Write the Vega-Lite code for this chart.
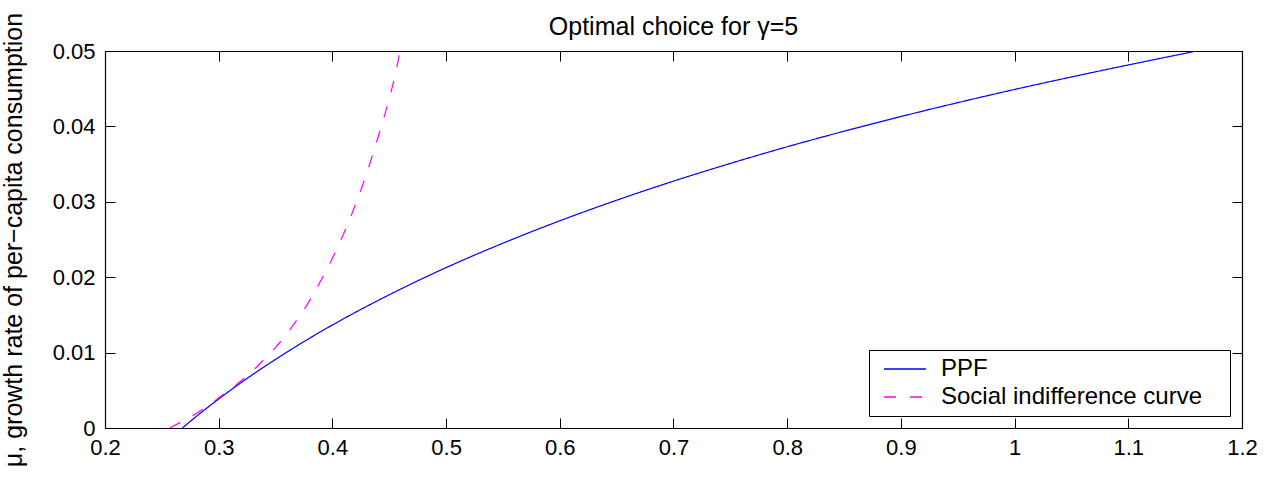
{
  "$schema": "https://vega.github.io/schema/vega-lite/v6.json",
  "width": 1137,
  "height": 377,
  "autosize": "none",
  "padding": {"left": 105, "top": 51, "right": 33, "bottom": 49},
  "background": "white",
  "title": {"text": "Optimal choice for γ=5", "font": "Liberation Sans", "fontSize": 25, "fontWeight": "normal", "color": "black", "offset": -28, "anchor": "middle"},
  "config": {
    "view": {"stroke": null},
    "axis": {"grid": false, "domainColor": "black", "tickColor": "black", "labelColor": "black", "titleColor": "black", "labelFont": "Liberation Sans", "titleFont": "Liberation Sans", "labelFontSize": 22, "titleFontSize": 25, "titleFontWeight": "normal", "tickSize": -10, "domainWidth": 1.2, "tickWidth": 1}
  },
  "data": {"values": [
    {"x": 0.268, "y": 0, "series": "PPF"},
    {"x": 0.275, "y": 0.00088, "series": "PPF"},
    {"x": 0.285, "y": 0.0021, "series": "PPF"},
    {"x": 0.3, "y": 0.00385, "series": "PPF"},
    {"x": 0.325, "y": 0.00658, "series": "PPF"},
    {"x": 0.35, "y": 0.0091, "series": "PPF"},
    {"x": 0.375, "y": 0.01146, "series": "PPF"},
    {"x": 0.4, "y": 0.01366, "series": "PPF"},
    {"x": 0.45, "y": 0.01767, "series": "PPF"},
    {"x": 0.5, "y": 0.02127, "series": "PPF"},
    {"x": 0.55, "y": 0.02451, "series": "PPF"},
    {"x": 0.6, "y": 0.02748, "series": "PPF"},
    {"x": 0.65, "y": 0.03021, "series": "PPF"},
    {"x": 0.7, "y": 0.03274, "series": "PPF"},
    {"x": 0.75, "y": 0.03509, "series": "PPF"},
    {"x": 0.8, "y": 0.0373, "series": "PPF"},
    {"x": 0.85, "y": 0.03936, "series": "PPF"},
    {"x": 0.9, "y": 0.04131, "series": "PPF"},
    {"x": 0.95, "y": 0.04315, "series": "PPF"},
    {"x": 1.0, "y": 0.0449, "series": "PPF"},
    {"x": 1.05, "y": 0.04656, "series": "PPF"},
    {"x": 1.1, "y": 0.04815, "series": "PPF"},
    {"x": 1.16, "y": 0.05, "series": "PPF"},
    {"x": 0.257, "y": 0, "series": "Social indifference curve"},
    {"x": 0.27, "y": 0.00105, "series": "Social indifference curve"},
    {"x": 0.28, "y": 0.0019, "series": "Social indifference curve"},
    {"x": 0.29, "y": 0.0029, "series": "Social indifference curve"},
    {"x": 0.3, "y": 0.004, "series": "Social indifference curve"},
    {"x": 0.31, "y": 0.0051, "series": "Social indifference curve"},
    {"x": 0.32, "y": 0.0063, "series": "Social indifference curve"},
    {"x": 0.33, "y": 0.0076, "series": "Social indifference curve"},
    {"x": 0.34, "y": 0.0091, "series": "Social indifference curve"},
    {"x": 0.35, "y": 0.0107, "series": "Social indifference curve"},
    {"x": 0.36, "y": 0.0125, "series": "Social indifference curve"},
    {"x": 0.37, "y": 0.0146, "series": "Social indifference curve"},
    {"x": 0.38, "y": 0.0169, "series": "Social indifference curve"},
    {"x": 0.39, "y": 0.0196, "series": "Social indifference curve"},
    {"x": 0.4, "y": 0.0225, "series": "Social indifference curve"},
    {"x": 0.41, "y": 0.0258, "series": "Social indifference curve"},
    {"x": 0.42, "y": 0.0295, "series": "Social indifference curve"},
    {"x": 0.43, "y": 0.0337, "series": "Social indifference curve"},
    {"x": 0.44, "y": 0.0385, "series": "Social indifference curve"},
    {"x": 0.45, "y": 0.0437, "series": "Social indifference curve"},
    {"x": 0.455, "y": 0.0467, "series": "Social indifference curve"},
    {"x": 0.4595, "y": 0.05, "series": "Social indifference curve"}
  ]},
  "layer": [
    {
      "mark": {"type": "line", "interpolate": "monotone", "strokeWidth": 1.2, "clip": true},
      "encoding": {
        "x": {"field": "x", "type": "quantitative", "scale": {"domain": [0.2, 1.2], "nice": false, "zero": false},
              "axis": {"orient": "bottom", "title": null, "values": [0.2, 0.3, 0.4, 0.5, 0.6, 0.7, 0.8, 0.9, 1.0, 1.1, 1.2], "format": "~g", "labelPadding": 19, "labelFlush": false, "labelOverlap": false}},
        "y": {"field": "y", "type": "quantitative", "scale": {"domain": [0, 0.05], "nice": false, "zero": false},
              "axis": {"orient": "left", "title": "μ, growth rate of per−capita consumption", "values": [0, 0.01, 0.02, 0.03, 0.04, 0.05], "labelExpr": "datum.value == 0 ? '0' : format(datum.value, '.2f')", "labelPadding": 20, "titlePadding": 26, "labelFlush": false, "labelOverlap": false}},
        "color": {"field": "series", "type": "nominal", "scale": {"domain": ["PPF", "Social indifference curve"], "range": ["#0000ff", "#ff00ff"]},
                  "legend": {"title": null, "orient": "bottom-right", "offset": 12, "padding": 7, "symbolOffset": 7, "symbolType": "stroke", "symbolSize": 1764, "symbolStrokeWidth": 1.5, "clipHeight": 24, "rowPadding": 4, "labelOffset": 14, "labelLimit": 500, "labelExpr": "datum.label + '\u00a0\u00a0\u00a0\u200b'", "labelFont": "Liberation Sans", "labelFontSize": 24, "labelColor": "black", "strokeColor": "black", "fillColor": "white", "cornerRadius": 0}},
        "strokeDash": {"field": "series", "type": "nominal", "scale": {"domain": ["PPF", "Social indifference curve"], "range": [[1, 0], [12, 14]]}, "legend": null}
      }
    },
    {
      "mark": {"type": "point", "opacity": 0},
      "encoding": {
        "x": {"field": "x", "type": "quantitative", "axis": {"orient": "top", "title": null, "labels": false, "labelPadding": 0, "values": [0.2, 0.3, 0.4, 0.5, 0.6, 0.7, 0.8, 0.9, 1.0, 1.1, 1.2]}},
        "y": {"field": "y", "type": "quantitative", "axis": {"orient": "right", "title": null, "labels": false, "labelPadding": 0, "values": [0, 0.01, 0.02, 0.03, 0.04, 0.05]}}
      }
    }
  ],
  "resolve": {"axis": {"x": "independent", "y": "independent"}}
}
